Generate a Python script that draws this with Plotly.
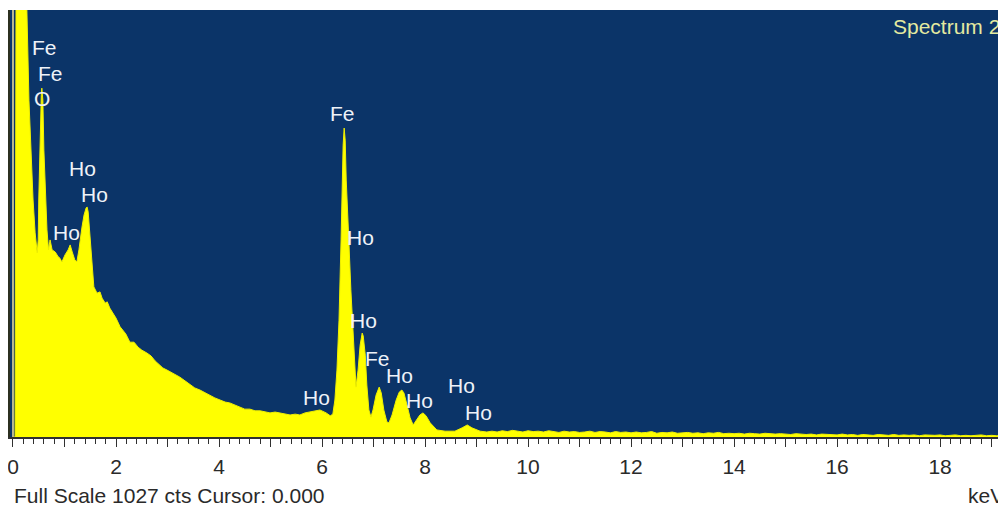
import plotly.graph_objects as go

# ---- data (energy in keV, counts) ----
energy_main = [0.0, 0.04, 0.06, 0.25, 0.27, 0.31, 0.39, 0.43, 0.47, 0.49, 0.50, 0.52, 0.55, 0.56, 0.58,
               0.60, 0.63, 0.66, 0.69, 0.72, 0.76, 0.82, 0.87, 0.91, 0.95, 1.01, 1.07, 1.11, 1.15, 1.20,
               1.24, 1.28, 1.34, 1.38, 1.42, 1.44, 1.46, 1.50, 1.55, 1.57, 1.60, 1.63, 1.69, 1.73, 1.79,
               1.83, 1.88, 1.94, 2.00, 2.08, 2.14, 2.19, 2.27, 2.35, 2.43, 2.50, 2.60, 2.68, 2.76, 2.83,
               2.91, 2.99, 3.07, 3.15, 3.24, 3.34, 3.44, 3.53, 3.63, 3.73, 3.83, 3.92, 4.02, 4.12, 4.21,
               4.31, 4.41, 4.50, 4.60, 4.70, 4.80, 4.89, 4.99, 5.09, 5.18, 5.28, 5.38, 5.48, 5.57, 5.67,
               5.77, 5.86, 5.96, 6.08, 6.16, 6.21, 6.25, 6.29, 6.33, 6.37, 6.39, 6.41, 6.43, 6.45, 6.47,
               6.51, 6.52, 6.56, 6.60, 6.64, 6.66, 6.70, 6.74, 6.78, 6.80, 6.84, 6.87, 6.91, 6.95, 6.99,
               7.05, 7.11, 7.15, 7.20, 7.26, 7.30, 7.36, 7.44, 7.50, 7.55, 7.59, 7.65, 7.71, 7.77, 7.83,
               7.90, 7.96, 8.02, 8.10, 8.18, 8.23, 8.39, 8.58, 8.72, 8.82, 8.91, 9.07, 9.20]
counts_main = [0, 0, 1100, 1100, 1027, 810, 570, 491, 443, 474, 570, 690, 822, 839, 810,
               690, 570, 498, 450, 474, 450, 445, 435, 430, 421, 438, 450, 462, 445, 426,
               421, 450, 505, 534, 551, 553, 541, 474, 390, 361, 354, 346, 349, 334, 322,
               325, 310, 298, 286, 265, 257, 248, 228, 228, 216, 209, 202, 195, 183, 176,
               166, 161, 156, 149, 144, 135, 127, 118, 113, 106, 99, 94, 89, 84, 82,
               77, 72, 67, 67, 63, 63, 60, 58, 60, 58, 55, 53, 55, 53, 58,
               60, 63, 65, 58, 51, 55, 89, 161, 281, 474, 594, 702, 743, 714, 618,
               522, 474, 354, 245, 149, 120, 161, 221, 250, 243, 197, 125, 65, 48, 65,
               101, 120, 106, 65, 36, 34, 53, 89, 108, 113, 106, 77, 46, 29, 41,
               53, 58, 51, 34, 22, 17, 14, 14, 22, 29, 22, 14, 12]

energy_tail = [9.3, 9.4, 9.5, 9.6, 9.7, 9.8, 9.9, 10.0, 10.1, 10.2, 10.3, 10.4, 10.5, 10.6, 10.7,
               10.8, 10.9, 11.0, 11.1, 11.2, 11.3, 11.4, 11.5, 11.6, 11.7, 11.8, 11.9, 12.0, 12.1,
               12.2, 12.3, 12.4, 12.5, 12.6, 12.7, 12.8, 12.9, 13.0, 13.1, 13.2, 13.3, 13.4, 13.5,
               13.6, 13.7, 13.8, 13.9, 14.0, 14.1, 14.2, 14.3, 14.4, 14.5, 14.6, 14.7, 14.8, 14.9,
               15.0, 15.1, 15.2, 15.3, 15.4, 15.5, 15.6, 15.7, 15.8, 15.9, 16.0, 16.1, 16.2, 16.3,
               16.4, 16.5, 16.6, 16.7, 16.8, 16.9, 17.0, 17.1, 17.2, 17.3, 17.4, 17.5, 17.6, 17.7,
               17.8, 17.9, 18.0, 18.1, 18.2, 18.3, 18.4, 18.5, 18.6, 18.7, 18.8, 18.9, 19.0, 19.1,
               19.2, 19.3]
counts_tail = [14, 12, 15, 13, 16, 14, 12, 15, 13, 14, 12, 15, 13, 11, 14, 12, 13, 11,
               12, 14, 11, 13, 12, 10, 13, 11, 12, 10, 12, 10, 11, 13, 9, 11, 10, 12,
               9, 10, 11, 9, 10, 8, 10, 9, 11, 8, 9, 8, 9, 7, 9, 8, 7, 9, 8, 7,
               8, 7, 6, 8, 7, 6, 7, 5, 7, 6, 6, 5, 7, 5, 6, 4, 6, 5, 4, 6,
               5, 4, 6, 4, 5, 4, 5, 3, 5, 4, 4, 5, 3, 4, 5, 3, 4, 3, 4, 5,
               3, 4, 3, 4, 3]

energy = energy_main + energy_tail
counts = counts_main + counts_tail

label_text = ["Fe", "Fe", "O", "Ho", "Ho", "Ho", "Fe", "Ho", "Ho", "Fe", "Ho", "Ho", "Ho", "Ho", "Ho"]
label_keV = [0.62, 0.72, 0.56, 1.34, 1.59, 1.03, 6.39, 6.74, 6.80, 7.07, 7.51, 7.90, 5.90, 8.70, 9.03]
label_cts = [938, 875, 813, 645, 584, 493, 779, 481, 281, 188, 147, 89, 94, 125, 60]

tick_vals = list(range(0, 20))
tick_text = [str(v) if v % 2 == 0 else "" for v in tick_vals]

full_scale = 1027
x_range = [-0.058, 19.28]

FONT = "Liberation Sans, Arial, sans-serif"
BG = "#0b3468"
TXT = "#2a2a2a"

fig = go.Figure()
fig.add_trace(go.Scatter(
    x=energy, y=counts, mode="lines", fill="tozeroy",
    fillcolor="#ffff00", line=dict(color="#f0f000", width=1),
    hoverinfo="skip", showlegend=False,
))

annotations = []
for t, xv, yv in zip(label_text, label_keV, label_cts):
    annotations.append(dict(x=xv, y=yv, xref="x", yref="y", text=t, showarrow=False,
                            font=dict(family=FONT, size=21, color="#eef2f8"),
                            xanchor="center", yanchor="middle"))
annotations.append(dict(x=0.996, y=0.9625, xref="paper", yref="paper", text="Spectrum 2",
                        showarrow=False, xanchor="right", yanchor="middle",
                        font=dict(family=FONT, size=21, color="#e4eaa0")))
annotations.append(dict(x=0.002, y=-0.136, xref="paper", yref="paper",
                        text=f"Full Scale {full_scale} cts Cursor: 0.000",
                        showarrow=False, xanchor="left", yanchor="middle",
                        font=dict(family=FONT, size=21, color=TXT)))
annotations.append(dict(x=1.0, y=-0.136, xref="paper", yref="paper", text="keV",
                        showarrow=False, xanchor="right", yanchor="middle",
                        font=dict(family=FONT, size=21, color=TXT)))

# page body has an 8px default margin, so the figure is 8px smaller and margins shifted
fig.update_layout(
    width=998, height=500,
    margin=dict(l=2, r=0, t=2, b=71),
    paper_bgcolor="white", plot_bgcolor=BG,
    annotations=annotations,
    shapes=[dict(type="line", xref="x", yref="paper", x0=0.0, x1=0.0, y0=0, y1=1,
                 line=dict(color="#b8b890", width=2))],
    xaxis=dict(range=x_range, showgrid=False, zeroline=False,
               showline=True, linecolor="#303030", linewidth=2,
               tickmode="array", tickvals=tick_vals, ticktext=tick_text,
               ticks="outside", ticklen=8, tickwidth=1, tickcolor="#303030",
               tickfont=dict(family=FONT, size=21, color=TXT),
               ticklabeloverflow="allow", ticklabelstandoff=2,
               minor=dict(dtick=0.2, ticks="outside", ticklen=5, tickwidth=1, tickcolor="#303030"),
               fixedrange=True),
    yaxis=dict(range=[0, full_scale], showgrid=False, zeroline=False,
               showline=True, linecolor="#2c3020", linewidth=2,
               showticklabels=False, ticks="", fixedrange=True),
)

fig.write_html("out.html")
